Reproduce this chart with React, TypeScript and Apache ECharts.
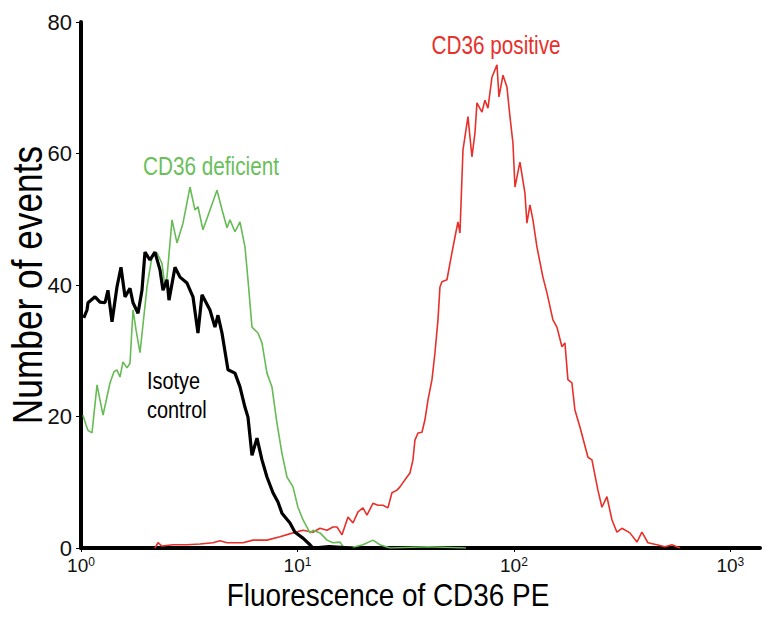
import React, { useEffect, useRef } from "react";
import * as echarts from "echarts";

// Isotype control (black)
const isoX = [1.03, 1.066, 1.077, 1.161, 1.224, 1.291, 1.332, 1.391, 1.466, 1.53, 1.597, 1.684, 1.739, 1.834, 1.913, 1.975, 2.083, 2.196, 2.317, 2.392, 2.496, 2.55, 2.718, 2.866, 3.088, 3.291, 3.47, 3.622, 3.943, 4.157, 4.293, 4.48, 4.775, 5.144, 5.425, 5.722, 5.907, 6.164, 6.5, 6.855, 7.229, 7.705, 8.126, 8.479, 9.234, 9.737, 10.6, 11.42, 11.79, 14.0, 18.0];
const isoY = [35.0, 36.2, 37.3, 38.2, 37.4, 37.3, 39.2, 34.4, 39.7, 42.7, 38.2, 39.5, 37.3, 35.7, 39.2, 45.0, 43.8, 45.0, 42.3, 39.2, 40.8, 37.7, 42.7, 41.2, 40.3, 38.2, 32.7, 38.5, 36.2, 33.6, 35.4, 32.7, 27.1, 26.6, 24.5, 21.4, 19.9, 14.1, 16.7, 13.4, 10.8, 8.4, 7.0, 5.3, 3.8, 2.4, 1.5, 0.5, 0, 0.2, 0];

// CD36 deficient (green)
const defX = [1.021, 1.055, 1.077, 1.124, 1.186, 1.224, 1.264, 1.361, 1.42, 1.466, 1.514, 1.563, 1.631, 1.684, 1.739, 1.795, 1.873, 2.018, 2.128, 2.244, 2.366, 2.443, 2.496, 2.633, 2.776, 2.959, 3.188, 3.362, 3.47, 3.66, 3.943, 4.248, 4.529, 4.725, 4.878, 5.144, 5.425, 5.722, 5.907, 6.164, 6.569, 6.855, 7.229, 7.623, 8.04, 8.479, 8.943, 9.533, 10.05, 10.6, 11.42, 11.79, 12.71, 13.69, 14.59, 15.72, 16.23, 18.44, 20.07, 22.32, 24.04, 26.75, 40, 60];
const defY = [20.2, 18.7, 17.9, 17.5, 24.8, 22.5, 20.2, 25.1, 26.8, 27.1, 26.0, 28.3, 27.4, 28.1, 36.2, 33.2, 29.7, 39.7, 44.3, 44.9, 43.3, 39.7, 41.2, 49.9, 46.4, 49.4, 54.9, 51.4, 51.9, 48.4, 51.4, 54.4, 50.9, 48.7, 49.9, 48.1, 49.6, 45.8, 40.8, 33.6, 32.7, 31.2, 26.6, 24.5, 19.0, 14.4, 10.8, 9.3, 6.2, 4.3, 2.3, 2.7, 2.3, 1.2, 0.8, 0.9, 0.2, 0.2, 0.5, 1.2, 0.5, 0, 0.2, 0];

// CD36 positive (red)
const posX = [2.196, 2.268, 2.366, 2.661, 3.088, 3.545, 4.072, 4.385, 4.725, 5.602, 6.231, 7.229, 8.301, 9.533, 10.6, 11.79, 12.71, 13.69, 14.59, 15.23, 16.06, 17.12, 18.05, 19.04, 20.07, 20.94, 22.32, 23.54, 24.83, 26.18, 27.32, 28.82, 29.75, 32.05, 33.09, 34.16, 34.89, 36.03, 37.59, 38.81, 40.07, 41.82, 43.17, 44.57, 45.52, 46.5, 49.04, 50.63, 53.41, 55.14, 56.32, 58.15, 61.32, 63.97, 66.05, 67.47, 71.16, 73.47, 75.86, 79.16, 83.49, 85.28, 88.98, 92.84, 95.85, 98.95, 101.1, 106.6, 112.4, 114.8, 118.6, 122.4, 127.7, 136.1, 142.1, 151.4, 158.0, 166.6, 172.0, 177.6, 185.3, 191.3, 201.8, 219.8, 229.3, 244.3, 255.0, 268.9, 283.6, 299.1, 315.4, 343.5, 369.9, 390.1, 415.9, 457.6, 498.4, 537.0, 584.7];
const posY = [0, 0.8, 0.3, 0.5, 0.5, 0.6, 0.8, 1.1, 0.8, 0.8, 1.2, 1.2, 1.7, 2.3, 2.7, 2.4, 3.0, 2.7, 3.2, 3.2, 2.0, 4.7, 3.8, 5.5, 6.1, 5.0, 6.8, 6.5, 6.5, 6.1, 8.4, 8.8, 9.3, 10.8, 11.4, 13.4, 16.4, 17.5, 17.6, 19.5, 22.5, 25.6, 29.7, 34.7, 39.7, 40.5, 40.8, 43.3, 47.3, 49.6, 47.9, 60.5, 65.6, 59.5, 63.1, 67.7, 66.3, 68.1, 66.9, 71.6, 73.5, 68.6, 71.9, 70.1, 65.6, 61.6, 54.9, 58.7, 54.0, 49.4, 52.2, 49.9, 45.8, 41.2, 38.8, 34.7, 33.6, 30.6, 31.2, 25.6, 25.1, 21.0, 18.4, 13.8, 13.4, 8.8, 6.2, 7.8, 4.3, 2.4, 3.0, 2.3, 0.9, 2.4, 0.8, 0.5, 0.2, 0.5, 0];

const xMin = 1;
const xMax = 1370;
const xTickValues = [1, 10, 100, 1000];
const yMin = 0;
const yMax = 80;
const yInterval = 20;

const FONT = '"Liberation Sans", Arial, Helvetica, sans-serif';
const RED = "#e8302b";
const GREEN = "#66bb55";
const NARROW = 0.83;

export default function App() {
  const ref = useRef<HTMLDivElement>(null);
  useEffect(() => {
    const chart = echarts.init(ref.current as HTMLDivElement, null, { renderer: "svg" });
    const pairs = (xs: number[], ys: number[]) => xs.map((x, i) => [x, ys[i]]);
    chart.setOption({
      animation: false,
      backgroundColor: "#ffffff",
      grid: { left: 81, right: 17, top: 22, bottom: 74, containLabel: false },
      xAxis: {
        type: "log",
        logBase: 10,
        min: xMin,
        max: xMax,
        splitLine: { show: false },
        axisLine: { lineStyle: { color: "#000", width: 4 } },
        axisTick: { show: true, length: 4, customValues: xTickValues, lineStyle: { color: "#000", width: 1 } },
        minorTick: { show: false },
        axisLabel: {
          margin: 8,
          customValues: xTickValues,
          formatter: (v: number) => `{b|10}{s|${Math.round(Math.log10(v))}}`,
          rich: {
            b: { fontFamily: FONT, fontSize: 19, lineHeight: 18, color: "#111" },
            s: { fontFamily: FONT, fontSize: 12, color: "#111", verticalAlign: "top" },
          },
        },
      },
      yAxis: {
        type: "value",
        min: yMin,
        max: yMax,
        interval: yInterval,
        splitLine: { show: false },
        axisLine: { show: true, lineStyle: { color: "#000", width: 4 } },
        axisTick: { show: true, length: 5, lineStyle: { color: "#000", width: 1 } },
        axisLabel: { margin: 9, fontFamily: FONT, fontSize: 22, lineHeight: 16, color: "#111" },
      },
      series: [
        {
          name: "CD36 positive",
          type: "line",
          data: pairs(posX, posY),
          showSymbol: false,
          lineStyle: { color: RED, width: 1.6 },
          z: 2,
        },
        {
          name: "CD36 deficient",
          type: "line",
          data: pairs(defX, defY),
          showSymbol: false,
          lineStyle: { color: GREEN, width: 1.6 },
          z: 3,
        },
        {
          name: "Isotye control",
          type: "line",
          data: pairs(isoX, isoY),
          showSymbol: false,
          lineStyle: { color: "#000", width: 3.2 },
          z: 4,
        },
      ],
      graphic: [
        {
          type: "text",
          x: 27,
          y: 285,
          rotation: Math.PI / 2,
          scaleX: 0.84,
          style: { text: "Number of events", fontFamily: FONT, fontSize: 42, fill: "#000", align: "center", verticalAlign: "middle" },
        },
        {
          type: "text",
          x: 388,
          y: 595,
          scaleX: 0.9,
          style: { text: "Fluorescence of CD36 PE", fontFamily: FONT, fontSize: 31, fill: "#000", align: "center", verticalAlign: "middle" },
        },
        {
          type: "text",
          x: 496,
          y: 45,
          scaleX: NARROW,
          style: { text: "CD36 positive", fontFamily: FONT, fontSize: 25, fill: RED, align: "center", verticalAlign: "middle" },
        },
        {
          type: "text",
          x: 211,
          y: 166,
          scaleX: NARROW,
          style: { text: "CD36 deficient", fontFamily: FONT, fontSize: 25, fill: "#6abf5a", align: "center", verticalAlign: "middle" },
        },
        {
          type: "text",
          x: 147,
          y: 381,
          scaleX: NARROW,
          style: { text: "Isotye", fontFamily: FONT, fontSize: 24, fill: "#000", align: "left", verticalAlign: "middle" },
        },
        {
          type: "text",
          x: 147,
          y: 410,
          scaleX: NARROW,
          style: { text: "control", fontFamily: FONT, fontSize: 24, fill: "#000", align: "left", verticalAlign: "middle" },
        },
      ],
    });
    return () => chart.dispose();
  }, []);
  return <div ref={ref} style={{ position: "absolute", left: 0, top: 0, width: 777, height: 622 }} />;
}
